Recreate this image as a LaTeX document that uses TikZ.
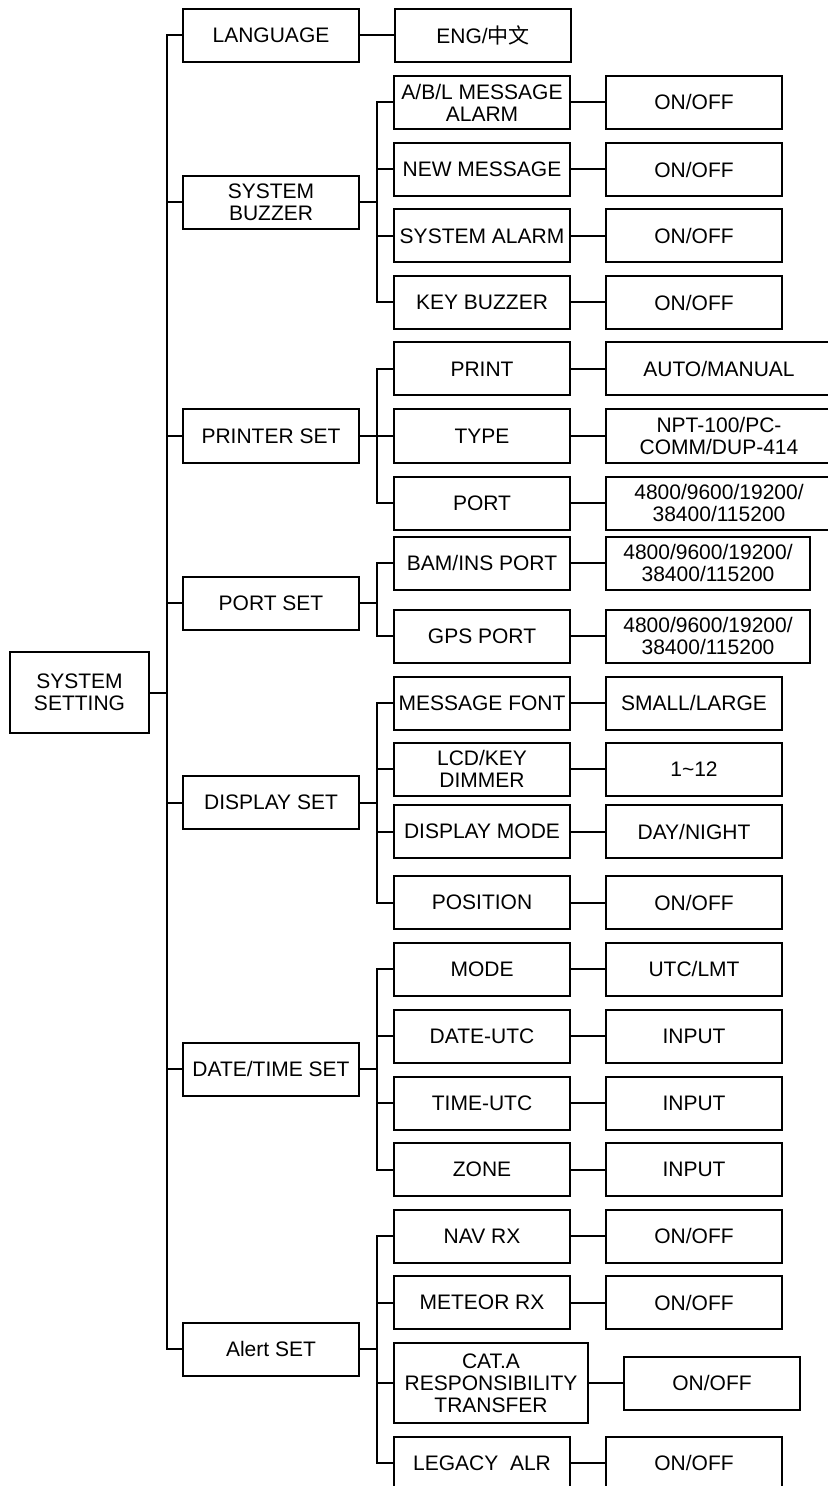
\documentclass[tikz,border=0pt]{standalone}
\usepackage{fontspec}
\setmainfont{Liberation Sans}
\newfontfamily\cjk{Noto Sans CJK SC}
\usetikzlibrary{positioning}

\begin{document}
\begin{tikzpicture}[
        x=0.5pt, y=-0.5pt,
        font=\fontsize{10.5}{11}\selectfont,
        box/.style={draw, line width=1pt, minimum width=88pt, minimum height=26.5pt, inner sep=0pt, align=center},
        item/.style={box, anchor=west},
        link/.style={line width=1pt}
    ]
        \useasboundingbox (0,0) rectangle (827,1486);

        \node[box, minimum width=69.5pt, minimum height=40.5pt] (sys) at (79.5,692.5) {SYSTEM\\SETTING};

        \node[box] (lang)    at (271,35.5)  {LANGUAGE};
        \node[box] (buzz)    at (271,202.5) {SYSTEM\\BUZZER};
        \node[box] (prn)     at (271,436)   {PRINTER SET};
        \node[box] (portset) at (271,603)   {PORT SET};
        \node[box] (disp)    at (271,802.5) {DISPLAY SET};
        \node[box] (date)    at (271,1069)  {DATE/TIME SET};
        \node[box] (alert)   at (271,1349)  {Alert SET};

        \node[box, right=17pt of lang] (langv) {ENG/{\cjk 中文}};

        \node[item] (abl)      at (393,102.5) {A/B/L MESSAGE\\ALARM};
        \node[item] (newmsg)   at (393,169.5) {NEW MESSAGE};
        \node[item] (sysalarm) at (393,236)   {SYSTEM ALARM};
        \node[item] (keybuzz)  at (393,302.5) {KEY BUZZER};

        \node[item] (print)    at (393,369)   {PRINT};
        \node[item] (type)     at (393,436)   {TYPE};
        \node[item] (port)     at (393,503)   {PORT};

        \node[item] (bamport)  at (393,563)   {BAM/INS PORT};
        \node[item] (gpsport)  at (393,636)   {GPS PORT};

        \node[item] (msgfont)  at (393,703)   {MESSAGE FONT};
        \node[item] (lcd)      at (393,769)   {LCD/KEY\\DIMMER};
        \node[item] (dispmode) at (393,831.5) {DISPLAY MODE};
        \node[item] (position) at (393,902.5) {POSITION};

        \node[item] (mode)     at (393,969)   {MODE};
        \node[item] (dateutc)  at (393,1036)  {DATE-UTC};
        \node[item] (timeutc)  at (393,1103)  {TIME-UTC};
        \node[item] (zone)     at (393,1169.5){ZONE};

        \node[item] (navrx)    at (393,1236)  {NAV RX};
        \node[item] (meteor)   at (393,1302.5){METEOR RX};
        \node[item, minimum width=97pt, minimum height=40pt] (cata) at (393,1383) {CAT.A\\RESPONSIBILITY\\TRANSFER};
        \node[item] (legacy)   at (393,1463)  {LEGACY\ \ ALR};

        \node[box, right=17pt of abl]      (ablv)      {ON/OFF};
        \node[box, right=17pt of newmsg]   (newmsgv)   {ON/OFF};
        \node[box, right=17pt of sysalarm] (sysalarmv) {ON/OFF};
        \node[box, right=17pt of keybuzz]  (keybuzzv)  {ON/OFF};
        \node[box, minimum width=113pt, right=17pt of print] (printv) {AUTO/MANUAL};
        \node[box, minimum width=113pt, right=17pt of type]  (typev)  {NPT-100/PC-\\COMM/DUP-414};
        \node[box, minimum width=113pt, right=17pt of port]  (portv)  {4800/9600/19200/\\38400/115200};
        \node[box, minimum width=102pt, right=17pt of bamport] (bamportv) {4800/9600/19200/\\38400/115200};
        \node[box, minimum width=102pt, right=17pt of gpsport] (gpsportv) {4800/9600/19200/\\38400/115200};
        \node[box, right=17pt of msgfont]  (msgfontv)  {SMALL/LARGE};
        \node[box, right=17pt of lcd]      (lcdv)      {1\textasciitilde 12};
        \node[box, right=17pt of dispmode] (dispmodev) {DAY/NIGHT};
        \node[box, right=17pt of position] (positionv) {ON/OFF};
        \node[box, right=17pt of mode]     (modev)     {UTC/LMT};
        \node[box, right=17pt of dateutc]  (dateutcv)  {INPUT};
        \node[box, right=17pt of timeutc]  (timeutcv)  {INPUT};
        \node[box, right=17pt of zone]     (zonev)     {INPUT};
        \node[box, right=17pt of navrx]    (navrxv)    {ON/OFF};
        \node[box, right=17pt of meteor]   (meteorv)   {ON/OFF};
        \node[box, right=17pt of cata]     (catav)     {ON/OFF};
        \node[box, right=17pt of legacy]   (legacyv)   {ON/OFF};

        \foreach \c in {lang,buzz,prn,portset,disp,date,alert}
            \draw[link] (sys.east) -- ++(17,0) |- (\c.west);
        \foreach \c in {abl,newmsg,sysalarm,keybuzz}
            \draw[link] (buzz.east) -- ++(17,0) |- (\c.west);
        \foreach \c in {print,type,port}
            \draw[link] (prn.east) -- ++(17,0) |- (\c.west);
        \foreach \c in {bamport,gpsport}
            \draw[link] (portset.east) -- ++(17,0) |- (\c.west);
        \foreach \c in {msgfont,lcd,dispmode,position}
            \draw[link] (disp.east) -- ++(17,0) |- (\c.west);
        \foreach \c in {mode,dateutc,timeutc,zone}
            \draw[link] (date.east) -- ++(17,0) |- (\c.west);
        \foreach \c in {navrx,meteor,cata,legacy}
            \draw[link] (alert.east) -- ++(17,0) |- (\c.west);

        \foreach \c in {lang,abl,newmsg,sysalarm,keybuzz,print,type,port,bamport,gpsport,msgfont,lcd,dispmode,position,mode,dateutc,timeutc,zone,navrx,meteor,cata,legacy}
            \draw[link] (\c) -- (\c v);
    \end{tikzpicture}
\end{document}
